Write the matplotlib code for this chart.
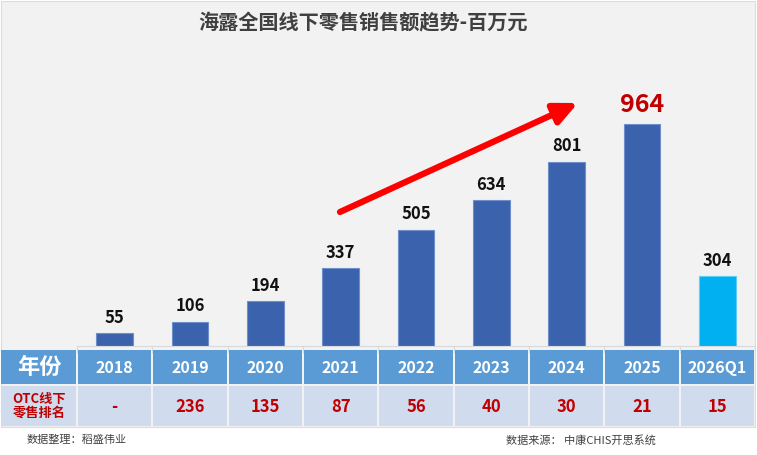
import matplotlib.pyplot as plt
from matplotlib.patches import Rectangle

plt.rcParams['font.family'] = ['Noto Sans CJK SC', 'DejaVu Sans']

years = ['2018', '2019', '2020', '2021', '2022', '2023', '2024', '2025', '2026Q1']
sales = [55, 106, 194, 337, 505, 634, 801, 964, 304]
ranks = ['-', '236', '135', '87', '56', '40', '30', '21', '15']
title = '海露全国线下零售销售额趋势-百万元'

W, H = 757, 455
fig = plt.figure(figsize=(W / 100, H / 100), dpi=100)
fig.patch.set_facecolor('white')


def px(x, y):
    # pixel coords (top-left origin) -> figure fraction
    return x / W, 1 - y / H


# grey panel behind the chart and table
fig.add_artist(Rectangle(px(1, 427), 754 / W, 426 / H, transform=fig.transFigure,
                         facecolor='#f2f2f2', edgecolor='#dcdcdc', lw=0.8, zorder=0))

# bar axes: columns from x=77 to 755, bar base at y=346
x0, x1 = 77, 755
ybase, ytop = 346, 40
ax = fig.add_axes([x0 / W, 1 - ybase / H, (x1 - x0) / W, (ybase - ytop) / H])
ax.set_facecolor('none')
pos = list(range(len(years)))
colors = ['#3b63ad'] * (len(years) - 1) + ['#00b0f0']
edges = ['#6f8fcc'] * (len(years) - 1) + ['#5fcdf5']
ax.bar(pos, sales, width=0.49, color=colors, edgecolor=edges, linewidth=0.8)
ax.set_xlim(-0.5, len(years) - 0.5)
ax.set_ylim(0, (ybase - ytop) / 0.2303)
for i, v in enumerate(sales):
    if v == max(sales):
        ax.text(i, v + 50, str(v), ha='center', va='baseline', fontsize=18,
                fontweight='bold', color='#c00000')
    else:
        ax.text(i, v + 45, str(v), ha='center', va='baseline', fontsize=12,
                fontweight='bold', color='#111111')
for s in ['top', 'right', 'left']:
    ax.spines[s].set_visible(False)
ax.spines['bottom'].set_color('#d9d9d9')
ax.set_xticks([p - 0.5 for p in pos] + [len(years) - 0.5])
ax.tick_params(axis='x', length=5, color='#d9d9d9', labelbottom=False, direction='out')
ax.set_yticks([])

# table
colw = (x1 - x0) / len(years)
rows = [(350, 384, '#5b9bd5'), (386, 426, '#d0dcee')]
for (ya, yb, c) in rows:
    edgesx = [0, x0] + [x0 + colw * (i + 1) for i in range(len(years))]
    for i in range(len(edgesx) - 1):
        xa, xb = edgesx[i], edgesx[i + 1]
        fig.add_artist(Rectangle(px(xa + 1, yb), (xb - xa - 2) / W, (yb - ya) / H,
                                 transform=fig.transFigure, facecolor=c,
                                 edgecolor='none', zorder=2))

fig.text(*px(39, 367), '年份', ha='center', va='center', fontsize=16,
         fontweight='bold', color='white', zorder=3)
fig.text(*px(39, 406), 'OTC线下\n零售排名', ha='center', va='center', fontsize=9.5,
         fontweight='bold', color='#c00000', linespacing=1.0, zorder=3)
for i, (yr, rk) in enumerate(zip(years, ranks)):
    cx = x0 + colw * (i + 0.5)
    fig.text(*px(cx, 373), yr, ha='center', va='baseline', fontsize=11.5,
             fontweight='bold', color='white', zorder=3)
    fig.text(*px(cx, 412), rk, ha='center', va='baseline', fontsize=12,
             fontweight='bold', color='#c00000', zorder=3)

# title
fig.text(*px(363, 23), title, ha='center', va='center', fontsize=14.5,
         fontweight='bold', color='#404040')

# trend arrow
ax.annotate('', xy=px(578, 103), xytext=px(340, 212), xycoords='figure fraction',
            textcoords='figure fraction',
            arrowprops=dict(arrowstyle='-|>,head_length=1.4,head_width=0.65',
                            color='#ff0000', lw=4.5, shrinkA=0, shrinkB=0))

# footnotes
fig.text(*px(27, 440), '数据整理：稻盛伟业', ha='left', va='center', fontsize=8,
         color='#404040')
fig.text(*px(506, 440), '数据来源： 中康CHIS开思系统', ha='left', va='center',
         fontsize=8, color='#404040')

fig.savefig('out.png', dpi=100)
